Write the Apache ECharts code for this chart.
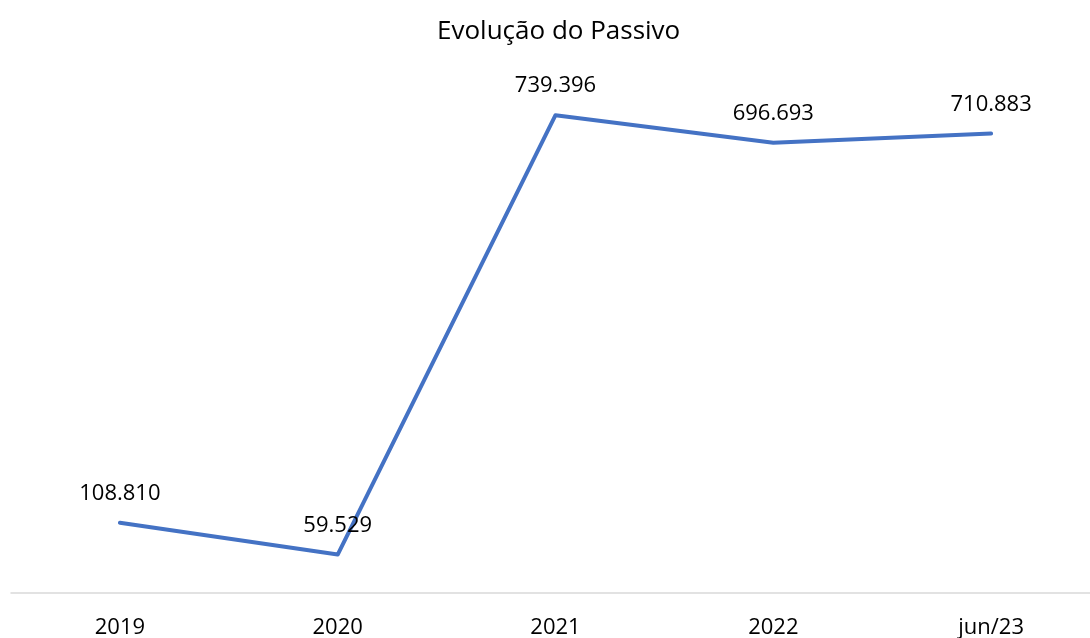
<!DOCTYPE html>
<html>
<head>
<meta charset="utf-8">
<script src="https://cdn.jsdelivr.net/npm/echarts@6/dist/echarts.min.js"></script>
<style>
  html, body { margin: 0; padding: 0; background: #fff; }
  #chart { width: 1090px; height: 638px; }
</style>
</head>
<body>
<div id="chart"></div>
<script>
// dados do gráfico
var categorias = ['2019', '2020', '2021', '2022', 'jun/23'];
var passivo = [108810, 59529, 739396, 696693, 710883];

function fmt(v) {
  return String(v).replace(/\B(?=(\d{3})+(?!\d))/g, '.');
}

var myChart = echarts.init(document.getElementById('chart'));
var option = {
  animation: false,
  title: {
    text: 'Evolução do Passivo',
    left: 432,
    top: 14,
    textStyle: { fontFamily: 'Open Sans', fontSize: 26, fontWeight: 'normal', color: '#000' }
  },
  grid: { left: 11, width: 1089, top: 76, bottom: 45, outerBoundsMode: 'none' },
  xAxis: {
    type: 'category',
    data: categorias,
    boundaryGap: true,
    axisTick: { show: false },
    axisLine: { show: true, lineStyle: { color: '#d9d9d9', width: 1.5 } },
    axisLabel: { color: '#000', fontFamily: 'Open Sans', fontSize: 22, margin: 24 }
  },
  yAxis: {
    type: 'value',
    min: 0,
    max: 800000,
    show: false,
    splitLine: { show: false }
  },
  series: [{
    type: 'line',
    data: passivo,
    symbol: 'circle',
    symbolSize: 0,
    showSymbol: true,
    lineStyle: { color: '#4472c4', width: 4, cap: 'round', join: 'round' },
    itemStyle: { color: '#4472c4' },
    label: {
      show: true,
      position: 'top',
      distance: 18,
      color: '#000',
      fontFamily: 'Open Sans',
      fontSize: 22,
      formatter: function (p) { return fmt(p.value); }
    }
  }]
};
myChart.setOption(option);
</script>
</body>
</html>
